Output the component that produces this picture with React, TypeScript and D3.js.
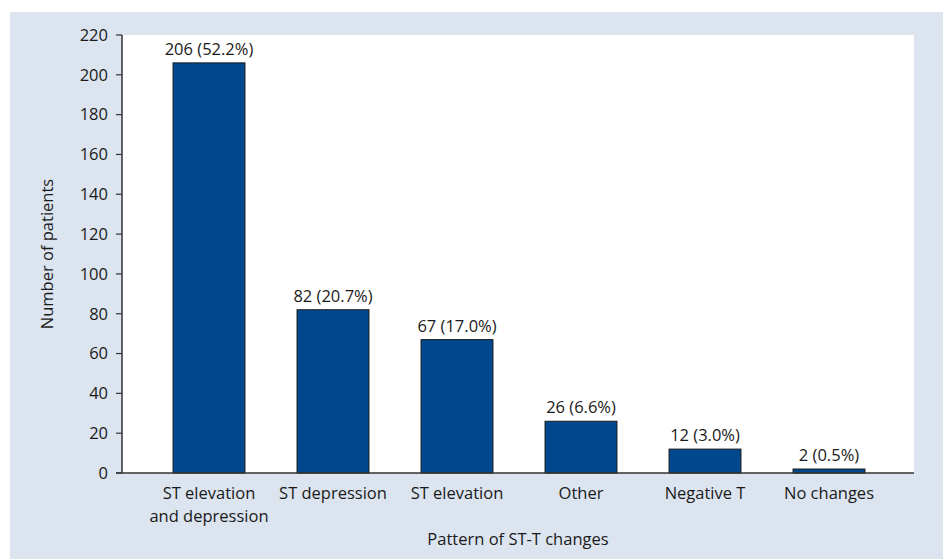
import * as d3 from "d3";
import * as React from "react";

const categories = [
  ["ST elevation", "and depression"],
  ["ST depression"],
  ["ST elevation"],
  ["Other"],
  ["Negative T"],
  ["No changes"],
];
const counts = [206, 82, 67, 26, 12, 2];
const percents = ["52.2%", "20.7%", "17.0%", "6.6%", "3.0%", "0.5%"];
const yTicks = [0, 20, 40, 60, 80, 100, 120, 140, 160, 180, 200, 220];

export default function App() {
  const width = 943;
  const height = 559;
  const left = 122;
  const right = 914;
  const top = 35;
  const bottom = 473;
  const font = "'Open Sans', 'Noto Sans', sans-serif";
  const fs = 16.5;

  const keys = categories.map((c) => c.join(" "));
  const x = d3.scaleBand(keys, [147, 891]).paddingInner(0.42).paddingOuter(0.21);
  const y = d3.scaleLinear([0, 220], [bottom, top]);

  return (
    <svg width={width} height={height} style={{ position: "absolute", left: 0, top: 0 }}>
      <rect x={10} y={12} width={width - 10} height={height - 12} fill="#dbe4ef" />
      <rect x={left} y={top} width={right - left} height={bottom - top} fill="#ffffff" />
      {counts.map((v, i) => (
        <g key={i}>
          <rect
            x={x(keys[i])}
            y={y(v)}
            width={x.bandwidth()}
            height={y(0) - y(v)}
            fill="#00488d"
            stroke="#1a1a1a"
            strokeWidth={1}
          />
          <text
            x={(x(keys[i]) ?? 0) + x.bandwidth() / 2}
            y={y(v) - 8}
            textAnchor="middle"
            fontFamily={font}
            fontSize={fs}
            fill="#1a1a1a"
          >
            {`${v} (${percents[i]})`}
          </text>
        </g>
      ))}
      <line x1={left} x2={left} y1={top} y2={bottom} stroke="#333" strokeWidth={1.5} />
      <line x1={left - 6} x2={right} y1={bottom} y2={bottom} stroke="#333" strokeWidth={1.5} />
      {yTicks.map((t) => (
        <g key={t}>
          <line x1={left - 6} x2={left} y1={y(t)} y2={y(t)} stroke="#333" strokeWidth={1.2} />
          <text
            x={left - 14}
            y={y(t)}
            dy="0.35em"
            textAnchor="end"
            fontFamily={font}
            fontSize={fs}
            fill="#1a1a1a"
          >
            {t}
          </text>
        </g>
      ))}
      {categories.map((lines, i) => (
        <text
          key={i}
          x={(x(keys[i]) ?? 0) + x.bandwidth() / 2}
          y={499}
          textAnchor="middle"
          fontFamily={font}
          fontSize={fs}
          fill="#1a1a1a"
        >
          {lines.map((l, j) => (
            <tspan key={j} x={(x(keys[i]) ?? 0) + x.bandwidth() / 2} dy={j === 0 ? 0 : 23}>
              {l}
            </tspan>
          ))}
        </text>
      ))}
      <text
        x={(left + right) / 2}
        y={545}
        textAnchor="middle"
        fontFamily={font}
        fontSize={fs}
        fill="#1a1a1a"
      >
        Pattern of ST-T changes
      </text>
      <text
        transform={`translate(53, ${(top + bottom) / 2}) rotate(-90)`}
        textAnchor="middle"
        fontFamily={font}
        fontSize={fs}
        fill="#1a1a1a"
      >
        Number of patients
      </text>
    </svg>
  );
}
